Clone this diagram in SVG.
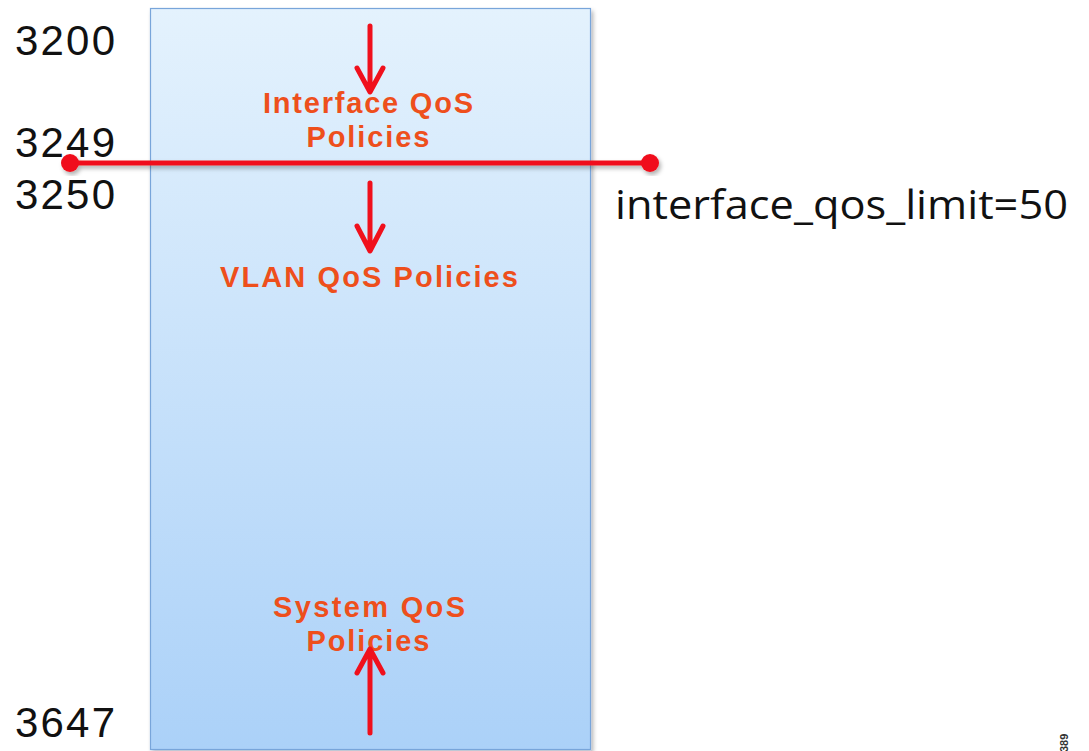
<svg xmlns="http://www.w3.org/2000/svg" width="1089" height="751" viewBox="0 0 1089 751">
<style>
.num{font-family:"Liberation Sans",Arial,sans-serif;font-size:42px;fill:#111}
.lbl{font-family:"Liberation Sans",Arial,sans-serif;font-weight:bold;font-size:29px;fill:#ee4f1c;text-anchor:middle}
.arr{stroke:#f0101c;stroke-width:5;fill:none;stroke-linecap:round;stroke-linejoin:round}
</style>
<defs>
<linearGradient id="g" x1="0" y1="0" x2="0" y2="1">
<stop offset="0" stop-color="#e4f2fd"/>
<stop offset="1" stop-color="#abd1f8"/>
</linearGradient>
<filter id="sh" x="-10%" y="-10%" width="130%" height="130%">
<feDropShadow dx="2" dy="3" stdDeviation="2" flood-color="#000" flood-opacity="0.3"/>
</filter>
</defs>
<rect width="1089" height="751" fill="#fff"/>
<g id="box">
<rect x="150.5" y="8.5" width="440" height="741" fill="url(#g)" stroke="#78a5da" stroke-width="1.2" filter="url(#sh)"/>
</g>
<g id="scale">
<text class="num" x="15" y="55" textLength="100">3200</text>
<text class="num" x="15" y="157" textLength="100">3249</text>
<text class="num" x="15" y="209" textLength="100">3250</text>
<text class="num" x="15" y="737" textLength="100">3647</text>
</g>
<g id="interface">
<text class="lbl" x="368" y="113" textLength="210">Interface QoS</text>
<text class="lbl" x="368" y="147" textLength="123">Policies</text>
</g>
<g id="vlan">
<text class="lbl" x="369" y="287" textLength="298">VLAN QoS Policies</text>
</g>
<g id="system">
<text class="lbl" x="369" y="617" textLength="192">System QoS</text>
<text class="lbl" x="368" y="651" textLength="123">Policies</text>
</g>
<g id="connectors">
<path class="arr" d="M370 26V91M357 68L370 92L383 68"/>
<path class="arr" d="M370 183V250M357 226L370 251L383 226"/>
<path class="arr" d="M370 733V650M357 673L370 649L383 673"/>
<g filter="url(#sh)">
<line x1="70" y1="163" x2="650" y2="163" stroke="#f0101c" stroke-width="5"/>
<circle cx="70" cy="163" r="9" fill="#f0101c"/>
<circle cx="650" cy="163" r="9" fill="#f0101c"/>
</g>
</g>
<g id="limit">
<text x="615" y="219" font-family="'Open Sans',Calibri,sans-serif" font-size="41" fill="#111" textLength="453" lengthAdjust="spacingAndGlyphs">interface_qos_limit=50</text>
</g>
<text x="1068" y="752" transform="rotate(-90 1068 752)" font-family="'Liberation Sans',Arial,sans-serif" font-size="11" font-weight="bold" fill="#333">389</text>
</svg>
